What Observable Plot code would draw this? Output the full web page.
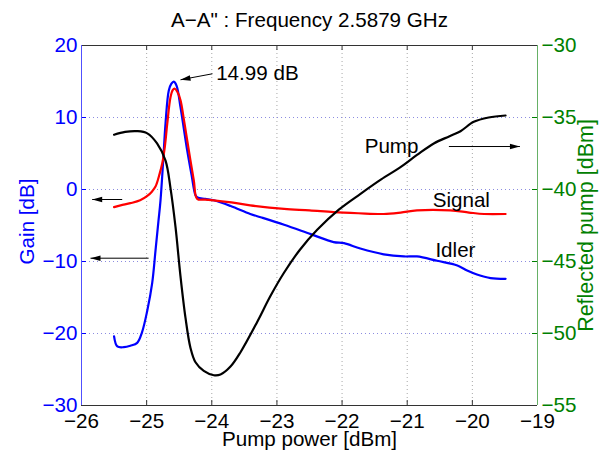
<!DOCTYPE html>
<html><head><meta charset="utf-8">
<script src="https://cdn.jsdelivr.net/npm/d3@7"></script>
<script src="https://cdn.jsdelivr.net/npm/@observablehq/plot@0.6"></script>
<style>html,body{margin:0;padding:0;background:#fff} svg{display:block}</style>
</head><body><div id="chart"></div>
<script>
// ---------- data ----------
const title = "A\u2212A\" : Frequency 2.5879 GHz";
const xTicks = [-26, -25, -24, -23, -22, -21, -20, -19];
const xGrid = [-25, -24, -23, -22, -21, -20];
const gainTicks = [-30, -20, -10, 0, 10, 20];
const gainGrid = [-20, -10, 0, 10];
const pumpAxisDomain = [-55, -30];

const idlerX = [-25.50, -25.45, -25.35, -25.25, -25.145, -25.07, -24.99, -24.915, -24.864, -24.82, -24.787, -24.746, -24.71, -24.66, -24.62, -24.583, -24.54, -24.48, -24.43, -24.377, -24.31, -24.25, -24.22, -24.10, -23.97, -23.71, -23.41, -23.25, -22.89, -22.48, -22.13, -21.97, -21.72, -21.36, -21.05, -20.85, -20.54, -20.23, -20.08, -19.93, -19.72, -19.49];
const idlerGain = [-20.4, -21.8, -21.9, -21.7, -21.3, -19.8, -16.8, -13.0, -8.5, -4.5, -1.5, 4.0, 9.2, 13.75, 14.7, 14.99, 14.4, 11.4, 8.5, 5.4, 2.0, -0.8, -1.1, -1.3, -1.5, -2.3, -3.4, -3.85, -4.9, -6.2, -7.3, -7.45, -8.2, -9.0, -9.3, -9.3, -9.9, -10.55, -11.25, -11.8, -12.3, -12.4];

const signalX = [-25.50, -25.40, -25.25, -25.10, -24.99, -24.92, -24.864, -24.80, -24.761, -24.72, -24.684, -24.634, -24.60, -24.572, -24.53, -24.48, -24.43, -24.377, -24.276, -24.224, -24.10, -23.97, -23.70, -23.41, -22.89, -22.50, -22.13, -21.75, -21.36, -21.10, -20.85, -20.34, -20.05, -19.82, -19.49];
const signalGain = [-2.45, -2.2, -1.9, -1.5, -0.9, -0.3, 0.4, 2.2, 3.6, 6.0, 9.1, 12.8, 13.8, 14.0, 13.6, 12.4, 9.8, 6.8, 1.25, -1.3, -1.4, -1.5, -1.8, -2.2, -2.7, -2.9, -3.15, -3.3, -3.4, -3.2, -2.9, -2.9, -3.2, -3.4, -3.4];

const pumpX = [-25.50, -25.33, -25.145, -24.99, -24.84, -24.71, -24.634, -24.557, -24.481, -24.404, -24.327, -24.25, -24.123, -23.969, -23.866, -23.713, -23.559, -23.303, -23.10, -22.894, -22.65, -22.382, -22.05, -21.717, -21.40, -21.103, -20.85, -20.592, -20.35, -20.182, -19.978, -19.75, -19.49];
const pumpRefl = [-36.2, -36.0, -35.95, -36.1, -36.8, -38.0, -39.9, -42.6, -46.0, -48.9, -51.0, -52.0, -52.6, -52.9, -52.85, -52.3, -51.3, -49.2, -47.4, -45.8, -44.2, -42.8, -41.4, -40.3, -39.3, -38.45, -37.6, -36.8, -36.3, -35.95, -35.3, -35.0, -34.86];

const labelText = ["14.99 dB", "Pump", "Signal", "Idler"];
const labelX = [-23.30, -21.24, -20.17, -20.26];
const labelY = [16.1, 6.0, -1.53, -8.47];

const arrowX1 = [-23.99, -25.375, -24.97, -20.36];
const arrowY1 = [16.07, -1.39, -9.54, 5.97];
const arrowX2 = [-24.48, -25.836, -25.862, -19.27];
const arrowY2 = [15.24, -1.39, -9.54, 5.97];
const arrowRotate = [-100.7, -90, -90, 90];

// ---------- helpers ----------
const FONT = "'Liberation Sans', Arial, Helvetica, sans-serif";
const fmt = v => (v < 0 ? "\u2212" : "") + Math.abs(Math.round(v * 100) / 100);
// right axis (reflected pump) mapped onto the gain scale
const pumpToGain = d3.scaleLinear().domain(pumpAxisDomain).range([gainTicks[0], gainTicks[gainTicks.length - 1]]);

const idler = idlerX.map((x, i) => ({x, y: idlerGain[i]}));
const signal = signalX.map((x, i) => ({x, y: signalGain[i]}));
const pump = pumpX.map((x, i) => ({x, y: pumpToGain(pumpRefl[i])}));
const labels = labelText.map((t, i) => ({t, x: labelX[i], y: labelY[i]}));
const arrows = arrowX1.map((x1, i) => ({x1, y1: arrowY1[i], x2: arrowX2[i], y2: arrowY2[i], rot: arrowRotate[i]}));

const headSymbol = {
  draw(ctx) { ctx.moveTo(0, 0); ctx.lineTo(-2.8, 10); ctx.lineTo(2.8, 10); ctx.closePath(); }
};

const BLUE = "#0000ff", GREEN = "#008000";
const FS = 20.6;

const chart = Plot.plot({
  width: 599, height: 450,
  marginLeft: 81, marginRight: 62, marginTop: 45, marginBottom: 45,
  x: {domain: [xTicks[0], xTicks[xTicks.length - 1]]},
  y: {domain: [gainTicks[0], gainTicks[gainTicks.length - 1]]},
  style: {fontFamily: FONT, fontSize: FS + "px", background: "white", color: "black", overflow: "visible"},
  marks: [
    // grid
    Plot.ruleX(xGrid, {stroke: "#a8a8a8", strokeDasharray: "1,3"}),
    Plot.ruleY(gainGrid, {stroke: "#8c8ce0", strokeDasharray: "1,3"}),
    // inward ticks
    Plot.tickX(xGrid, {x: d => d, insetTop: 355, stroke: "#333"}),
    Plot.tickX(xGrid, {x: d => d, insetBottom: 355, stroke: "#333"}),
    Plot.tickY(gainGrid, {y: d => d, insetRight: 451, stroke: BLUE}),
    Plot.tickY(gainGrid, {y: d => d, insetLeft: 451, stroke: GREEN}),
    // box
    Plot.ruleY([gainTicks[gainTicks.length - 1]], {stroke: "#333"}),
    Plot.ruleY([gainTicks[0]], {stroke: "#333"}),
    Plot.ruleX([xTicks[0]], {stroke: "#5050ff"}),
    Plot.ruleX([xTicks[xTicks.length - 1]], {stroke: "#66b066"}),
    // curves
    Plot.line(idler, {x: "x", y: "y", stroke: BLUE, strokeWidth: 2.2, curve: "catmull-rom"}),
    Plot.line(signal, {x: "x", y: "y", stroke: "#ff0000", strokeWidth: 2.2, curve: "catmull-rom"}),
    Plot.line(pump, {x: "x", y: "y", stroke: "#000", strokeWidth: 2.2, curve: "catmull-rom"}),
    // annotations
    Plot.link(arrows, {x1: "x1", y1: "y1", x2: "x2", y2: "y2", stroke: "#000", strokeWidth: 1}),
    Plot.dot(arrows, {x: "x2", y: "y2", rotate: "rot", symbol: headSymbol, fill: "#000", stroke: null, r: 3}),
    Plot.text(labels, {x: "x", y: "y", text: "t", fill: "#000"}),
    // axes
    Plot.axisX(xTicks, {anchor: "bottom", tickSize: 0, tickPadding: 8, tickFormat: fmt, label: null, fill: "#000"}),
    Plot.axisY(gainTicks, {anchor: "left", tickSize: 0, tickPadding: 4, tickFormat: fmt, label: null, fill: BLUE}),
    Plot.axisY(gainTicks, {anchor: "right", tickSize: 0, tickPadding: 4, tickFormat: g => fmt(pumpToGain.invert(g)), label: null, fill: GREEN}),
    // titles
    Plot.text([title], {frameAnchor: "top", lineAnchor: "middle", textAnchor: "middle", dy: -25, text: d => d, fill: "#000"}),
    Plot.text(["Pump power [dBm]"], {frameAnchor: "bottom", lineAnchor: "middle", textAnchor: "middle", dy: 34, text: d => d, fill: "#000"}),
    Plot.text(["Gain [dB]"], {frameAnchor: "left", lineAnchor: "middle", textAnchor: "middle", dx: -54, dy: -4, rotate: -90, text: d => d, fill: BLUE}),
    Plot.text(["Reflected pump [dBm]"], {frameAnchor: "right", lineAnchor: "middle", textAnchor: "middle", dx: 49, rotate: -90, fontSize: 21.5, text: d => d, fill: GREEN})
  ]
});
document.getElementById("chart").appendChild(chart);
</script>
</body></html>
